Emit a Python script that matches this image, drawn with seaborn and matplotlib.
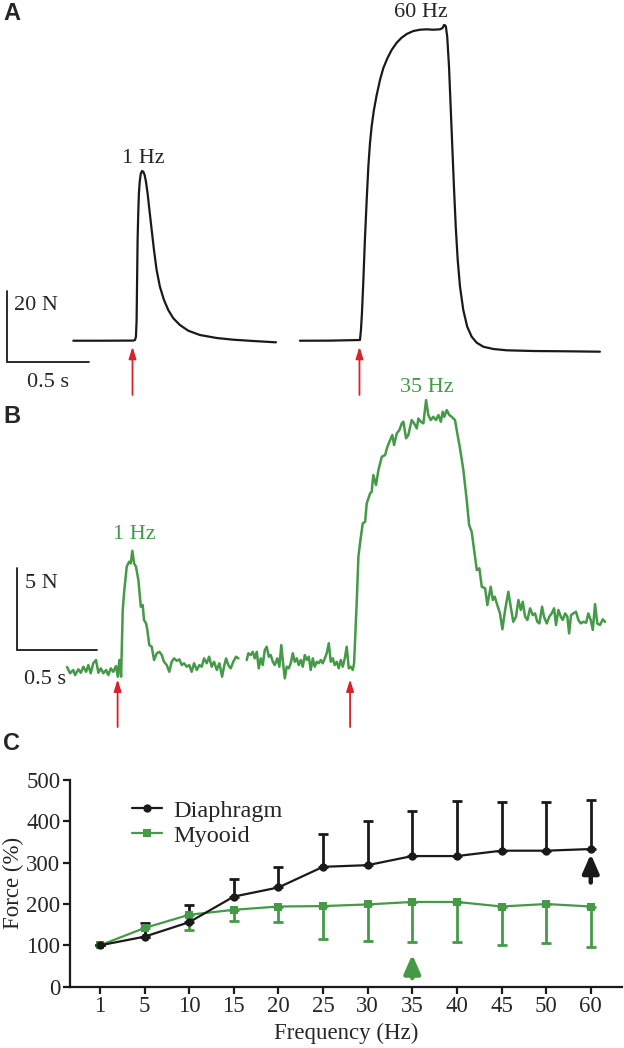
import numpy as np
import pandas as pd
import matplotlib
matplotlib.use("Agg")
import matplotlib.pyplot as plt
import seaborn as sns

# ---------------- data ----------------
# Panel A: diaphragm force traces (time s, force N)
a1_t = [0.002, 0.165, 0.368, 0.378, 0.384, 0.388, 0.390, 0.392, 0.394, 0.398, 0.402,
        0.407, 0.413, 0.421, 0.429, 0.437, 0.445, 0.455, 0.465, 0.480, 0.494, 0.510,
        0.530, 0.555, 0.581, 0.612, 0.652, 0.703, 0.774, 0.876, 0.977, 1.099, 1.238]
a1_f = [0.08, 0.08, 0.12, 0.28, 1.22, 5.92, 13.43, 20.94, 28.45, 35.97, 41.60,
        44.88, 47.04, 47.89, 47.69, 46.76, 44.88, 41.60, 37.38, 31.27, 25.63, 20.00,
        15.30, 11.55, 8.73, 6.39, 4.51, 2.90, 1.69, 0.85, 0.37, 0.00, -0.37]
a2_t = [1.384, 1.560, 1.750, 1.756, 1.762, 1.770, 1.780, 1.791, 1.801, 1.811, 1.821,
        1.835, 1.852, 1.872, 1.892, 1.917, 1.943, 1.974, 2.004, 2.035, 2.075, 2.116,
        2.157, 2.197, 2.238, 2.254, 2.262, 2.270, 2.274, 2.282, 2.293, 2.303, 2.313,
        2.323, 2.334, 2.346, 2.360, 2.380, 2.404, 2.431, 2.462, 2.502, 2.563, 2.645,
        2.807, 3.010, 3.213]
a2_f = [0.08, 0.10, 0.28, 3.10, 7.80, 16.25, 28.45, 39.72, 49.10, 55.69, 60.37,
        65.07, 69.30, 73.52, 76.82, 79.63, 81.97, 84.03, 85.44, 86.48, 87.32, 87.69,
        87.80, 87.69, 87.80, 88.17, 89.01, 88.92, 88.54, 85.72, 77.27, 66.00, 54.73,
        43.46, 32.20, 22.82, 15.30, 8.73, 4.03, 1.21, -0.48, -1.61, -2.25, -2.62,
        -2.82, -2.90, -3.01]

# Panel B: myooid force traces (time s, force N)
b1_t = [0.000, 0.019, 0.039, 0.050, 0.071, 0.086, 0.102, 0.119, 0.133, 0.148, 0.164,
        0.181, 0.196, 0.211, 0.227, 0.244, 0.258, 0.273, 0.289, 0.306, 0.317, 0.327,
        0.338, 0.348, 0.358, 0.373, 0.388, 0.398, 0.408, 0.419, 0.431, 0.446, 0.461,
        0.473, 0.481, 0.494, 0.502, 0.514, 0.529, 0.544, 0.561, 0.577, 0.592, 0.606,
        0.623, 0.639, 0.654, 0.669, 0.686, 0.702, 0.717, 0.731, 0.748, 0.764, 0.779,
        0.794, 0.811, 0.827, 0.842, 0.856, 0.873, 0.888, 0.904, 0.919, 0.936, 0.952,
        0.969, 0.981, 0.994, 1.008, 1.023, 1.039, 1.056, 1.071]
b1_f = [0.00, -0.38, -0.18, -0.49, -0.14, -0.35, 0.02, -0.29, 0.12, -0.38, 0.23,
        0.43, -0.35, -0.08, -0.38, -0.18, -0.49, -0.08, -0.29, 0.06, -0.59, 0.43,
        -0.59, 3.48, 4.70, 6.12, 6.42, 6.32, 7.09, 6.32, 6.12, 5.30, 3.68,
        3.78, 2.87, 2.66, 2.26, 1.34, 1.24, 0.43, 0.84, 0.93, 0.73, 0.32,
        0.12, -0.29, 0.32, 0.53, 0.38, 0.47, 0.12, 0.23, 0.02, 0.12, -0.29,
        0.23, -0.18, 0.12, 0.02, 0.53, 0.23, 0.63, 0.02, 0.32, -0.18, 0.23,
        -0.59, 0.02, 0.53, 0.12, -0.08, 0.32, 0.63, 0.53]
b2_t = [1.123, 1.133, 1.148, 1.161, 1.173, 1.186, 1.198, 1.211, 1.223, 1.236, 1.248,
        1.261, 1.273, 1.286, 1.298, 1.314, 1.327, 1.339, 1.348, 1.361, 1.373, 1.386,
        1.398, 1.411, 1.423, 1.436, 1.448, 1.461, 1.473, 1.486, 1.498, 1.511, 1.523,
        1.536, 1.548, 1.561, 1.573, 1.586, 1.598, 1.611, 1.623, 1.636, 1.648, 1.661,
        1.673, 1.686, 1.698, 1.711, 1.723, 1.736, 1.748, 1.761, 1.773, 1.786, 1.794,
        1.802, 1.811, 1.821, 1.831, 1.848, 1.863, 1.873, 1.894, 1.904, 1.914, 1.931,
        1.946, 1.967, 1.988, 2.002, 2.019, 2.033, 2.044, 2.061, 2.077, 2.092, 2.102,
        2.119, 2.133, 2.154, 2.169, 2.186, 2.196, 2.211, 2.227, 2.244, 2.258, 2.273,
        2.289, 2.306, 2.321, 2.336, 2.348, 2.358, 2.373, 2.389, 2.404, 2.425, 2.439,
        2.456, 2.477, 2.498, 2.513, 2.529, 2.544, 2.561, 2.577, 2.592, 2.613, 2.627,
        2.648, 2.661, 2.673, 2.689, 2.706, 2.721, 2.738, 2.758, 2.773, 2.789, 2.806,
        2.821, 2.836, 2.848, 2.863, 2.877, 2.894, 2.911, 2.925, 2.939, 2.952, 2.969,
        2.981, 2.998, 3.014, 3.029, 3.044, 3.056, 3.071, 3.086, 3.098, 3.113, 3.127,
        3.138, 3.150, 3.164, 3.181, 3.196, 3.211, 3.227, 3.244, 3.258, 3.273, 3.286,
        3.300, 3.314, 3.331, 3.348, 3.363]
b2_f = [0.43, 0.84, 0.73, 0.93, 0.53, 0.93, -0.08, 0.53, 0.12, 1.04, 1.24,
        0.63, 0.73, 0.32, 0.12, 0.53, 0.02, 1.34, 0.43, -0.69, 0.02, -0.08,
        0.23, 0.84, 0.32, 0.53, 0.12, 0.43, 0.02, 0.73, 0.43, 0.63, -0.18,
        0.53, 0.02, 0.32, 0.23, 0.43, 0.23, 0.53, 0.84, 1.45, 0.32, 0.53,
        0.12, 0.32, -0.08, 0.43, 0.02, 0.53, 1.24, -0.08, 0.02, -0.18, 0.23,
        2.06, 4.09, 6.73, 7.54, 8.76, 8.86, 9.98, 10.59, 10.69, 11.71, 11.10,
        12.01, 12.82, 12.93, 13.43, 13.84, 14.15, 13.54, 14.25, 14.45, 14.86, 14.96,
        13.95, 14.15, 15.06, 14.86, 14.55, 15.16, 14.96, 14.86, 16.28, 15.37, 15.06,
        15.26, 15.06, 15.37, 14.96, 15.57, 15.26, 15.67, 15.37, 15.26, 15.06, 14.25,
        13.34, 12.01, 10.18, 8.66, 8.25, 7.13, 5.91, 6.02, 4.90, 4.80, 3.78,
        4.90, 4.09, 4.29, 3.78, 3.27, 2.30, 3.48, 4.59, 3.68, 2.76, 3.07,
        4.09, 3.48, 3.98, 3.07, 2.87, 3.58, 3.17, 3.27, 2.76, 2.66, 3.68,
        3.07, 2.66, 3.07, 3.27, 3.58, 2.56, 3.48, 3.07, 2.87, 3.27, 3.07,
        2.05, 3.17, 3.27, 3.37, 2.87, 2.66, 2.76, 2.70, 3.27, 2.87, 2.26,
        3.84, 2.66, 2.56, 2.91, 2.76]

# stimulation onsets (s)
a_stim = [0.363, 1.747]
b_stim = [0.316, 1.769]

# Panel C: force-frequency
freq_labels = ["1", "5", "10", "15", "20", "25", "30", "35", "40", "45", "50", "60"]
diaphragm_mean = [100, 121, 156, 218, 240, 290, 294, 316, 316, 329, 329, 333]
diaphragm_err = [0, 32, 42, 43, 49, 79, 106, 110, 134, 118, 118, 119]
myooid_mean = [100, 142, 174, 186, 194, 195, 199, 205, 205, 194, 200, 194]
myooid_err = [0, 22, 37, 28, 37, 80, 88, 96, 96, 93, 95, 99]

# ---------------- style ----------------
sns.set_style("white")
plt.rcParams["font.family"] = ["Liberation Serif", "DejaVu Serif"]
plt.rcParams["mathtext.fontset"] = "stix"

BLACK = "#1a1a1a"
GREEN = "#449a47"
RED = "#d9232a"

W, H = 624, 1048
fig = plt.figure(figsize=(W / 100, H / 100), dpi=100)


def frac_rect(x0, y0, x1, y1):
    return [x0 / W, 1 - y1 / H, (x1 - x0) / W, (y1 - y0) / H]


# ---------------- Panel A ----------------
axA = fig.add_axes(frac_rect(0, 0, W, 395))
axA.set_axis_off()
axA.set_xlim(-0.445, 3.360)
axA.set_ylim(-15.21, 96.06)
sns.lineplot(x=a1_t, y=a1_f, ax=axA, color=BLACK, lw=1.6, estimator=None, sort=False)
sns.lineplot(x=a2_t, y=a2_f, ax=axA, color=BLACK, lw=1.6, estimator=None, sort=False)
axA.plot([-0.40, -0.40, 0.10], [14.2, -5.8, -5.8], color=BLACK, lw=1.3,
         solid_joinstyle="miter", clip_on=False)
axA.text(-0.36, 10.1, "20 N", fontsize=16, ha="left", va="center")
axA.text(-0.152, -11.6, "0.5 s", fontsize=16, ha="center", va="center")
axA.text(0.43, 51.5, "1 Hz", fontsize=16, ha="center", va="center")
axA.text(2.12, 92.5, "60 Hz", fontsize=16, ha="center", va="center")
for t in a_stim:
    axA.annotate("", xy=(t, -1.6), xytext=(t, -15.2),
                 arrowprops=dict(arrowstyle="-|>,head_width=0.22,head_length=0.7",
                                 color=RED, lw=1.3, shrinkA=0, shrinkB=0),
                 annotation_clip=False)
fig.text(3 / W, 1 - 13 / H, "A", fontsize=17, fontweight="bold",
         family="Liberation Sans", ha="left", va="center")

# ---------------- Panel B ----------------
axB = fig.add_axes(frac_rect(0, 395, W, 700))
axB.set_axis_off()
axB.set_xlim(-0.419, 3.481)
axB.set_ylim(-2.01, 16.59)
sns.lineplot(x=b1_t, y=b1_f, ax=axB, color=GREEN, lw=1.8, estimator=None, sort=False)
sns.lineplot(x=b2_t, y=b2_f, ax=axB, color=GREEN, lw=1.8, estimator=None, sort=False)
axB.plot([-0.3125, -0.3125, 0.1875], [6.04, 1.04, 1.04], color=BLACK, lw=1.3,
         solid_joinstyle="miter", clip_on=False)
axB.text(-0.2625, 5.12, "5 N", fontsize=16, ha="left", va="center")
axB.text(-0.135, -0.78, "0.5 s", fontsize=16, ha="center", va="center")
axB.text(0.419, 8.1, "1 Hz", fontsize=16, color=GREEN, ha="center", va="center")
axB.text(2.249, 17.04, "35 Hz", fontsize=16, color=GREEN, ha="center", va="center",
         clip_on=False)
for t in b_stim:
    axB.annotate("", xy=(t, -0.75), xytext=(t, -3.66),
                 arrowprops=dict(arrowstyle="-|>,head_width=0.22,head_length=0.7",
                                 color=RED, lw=1.3, shrinkA=0, shrinkB=0),
                 annotation_clip=False)
fig.text(3 / W, 1 - 417 / H, "B", fontsize=17, fontweight="bold",
         family="Liberation Sans", ha="left", va="center")

# ---------------- Panel C ----------------
axC = fig.add_axes(frac_rect(70, 780, 622, 986.7))
xpos = np.arange(len(freq_labels))
dfC = pd.DataFrame({"x": xpos, "Diaphragm": diaphragm_mean, "Myooid": myooid_mean})

axC.errorbar(xpos, myooid_mean, yerr=[myooid_err, [0] * len(xpos)], fmt="none",
             ecolor=GREEN, elinewidth=2.0, capsize=3.5, capthick=2.0, zorder=2)
axC.errorbar(xpos, diaphragm_mean, yerr=[[0] * len(xpos), diaphragm_err], fmt="none",
             ecolor=BLACK, elinewidth=2.0, capsize=3.5, capthick=2.0, zorder=2)
sns.lineplot(data=dfC, x="x", y="Diaphragm", ax=axC, color=BLACK, lw=1.6,
             marker="o", markersize=6, markeredgewidth=0, label="Diaphragm", zorder=4)
sns.lineplot(data=dfC, x="x", y="Myooid", ax=axC, color=GREEN, lw=1.6,
             marker="s", markersize=6, markeredgewidth=0, label="Myooid", zorder=3)

axC.set_xlim(-0.67, 11.7)
axC.set_ylim(0, 500)
axC.set_xticks(xpos)
axC.set_xticklabels(freq_labels)
axC.set_yticks([0, 100, 200, 300, 400, 500])
for s in ["top", "right"]:
    axC.spines[s].set_visible(False)
for s in ["left", "bottom"]:
    axC.spines[s].set_color(BLACK)
    axC.spines[s].set_linewidth(1.6)
axC.tick_params(axis="both", direction="out", length=5, width=1.6, color=BLACK,
                labelsize=16.5, pad=2, bottom=True, left=True)
axC.set_xlabel("Frequency (Hz)", fontsize=16.5)
axC.set_ylabel("Force (%)", fontsize=16.5)
axC.yaxis.set_label_coords(-0.083, 0.5)
axC.xaxis.set_label_coords(0.5, -0.175)

axC.annotate("", xy=(11, 321), xytext=(11, 252),
             arrowprops=dict(arrowstyle="-|>,head_width=0.35,head_length=0.8",
                             color=BLACK, lw=3.2, shrinkA=0, shrinkB=0,
                             mutation_scale=14))
axC.annotate("", xy=(7, 78), xytext=(7, 21),
             arrowprops=dict(arrowstyle="-|>,head_width=0.35,head_length=0.8",
                             color=GREEN, lw=3.2, shrinkA=0, shrinkB=0,
                             mutation_scale=14))

leg = axC.legend(loc="upper left", bbox_to_anchor=(0.113, 0.905), frameon=False,
                 fontsize=17.5, handlelength=1.2, handletextpad=0.5, borderpad=0,
                 borderaxespad=0, labelspacing=0.12)

fig.text(3 / W, 1 - 743 / H, "C", fontsize=17, fontweight="bold",
         family="Liberation Sans", ha="left", va="center")

fig.savefig("out.png", dpi=100)
